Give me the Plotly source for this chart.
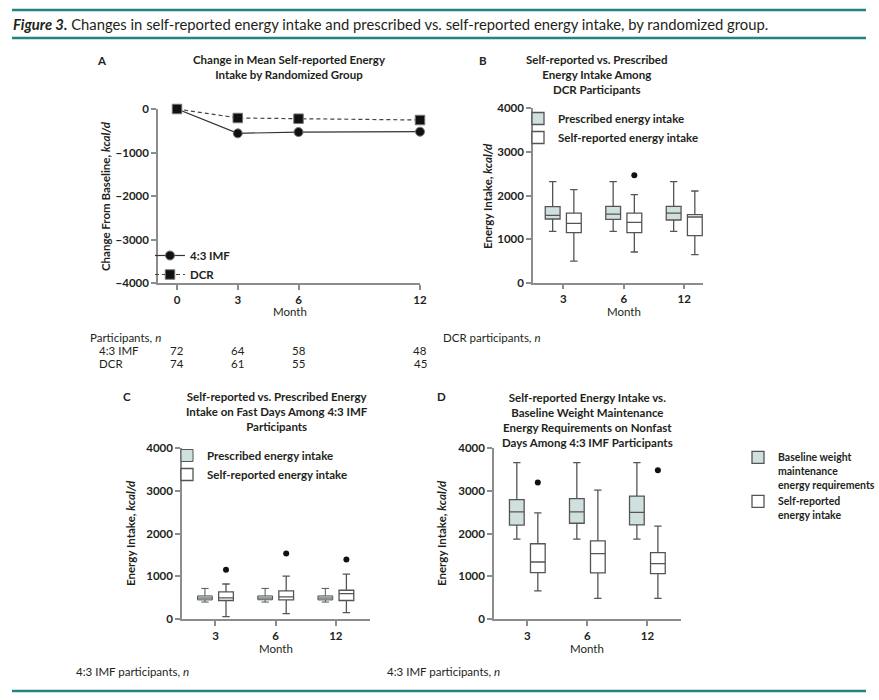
import plotly.graph_objects as go

W, H = 879, 700
FONT = "Lato, 'Open Sans', Arial, sans-serif"
TXT = "#231f20"
AXC = "#8c8c8c"
TEAL = "#23857f"
FILL = "#cfe0de"
BOXLINE = "#555555"

# ---------------- Panel A data ----------------
months_a = [0, 3, 6, 12]
imf_change = [0, -560, -530, -522]
imf_err = [0, 70, 60, 60]
dcr_change = [0, -207, -223, -253]
dcr_err = [0, 50, 50, 55]
n_imf_a = [72, 64, 58, 48]
n_dcr_a = [74, 61, 55, 45]

# ---------------- Box panels ----------------
months_box = ["3", "6", "12"]

# B: DCR participants
b_pres_lo = [1178, 1178, 1178]
b_pres_q1 = [1461, 1453, 1438]
b_pres_med = [1545, 1575, 1598]
b_pres_q3 = [1744, 1751, 1751]
b_pres_hi = [2317, 2317, 2317]
b_self_lo = [497, 704, 642]
b_self_q1 = [1147, 1147, 1078]
b_self_med = [1361, 1384, 1507]
b_self_q3 = [1598, 1598, 1560]
b_self_hi = [2134, 2019, 2103]
b_self_out = [[], [2463], []]
n_b = [62, 56, 45]

# C: fast days, 4:3 IMF
c_pres_lo = [402, 402, 402]
c_pres_q1 = [452, 455, 452]
c_pres_med = [495, 495, 495]
c_pres_q3 = [545, 545, 545]
c_pres_hi = [720, 720, 720]
c_self_lo = [62, 131, 154]
c_self_q1 = [438, 454, 438]
c_self_med = [500, 523, 600]
c_self_q3 = [638, 662, 677]
c_self_hi = [823, 1008, 1054]
c_self_out = [[1154], [1531], [1392]]
n_c = [63, 58, 46]

# D: nonfast days, 4:3 IMF
d_base_lo = [1869, 1869, 1869]
d_base_q1 = [2193, 2239, 2201]
d_base_med = [2502, 2502, 2494]
d_base_q3 = [2788, 2811, 2873]
d_base_hi = [3652, 3652, 3652]
d_self_lo = [664, 486, 486]
d_self_q1 = [1089, 1081, 1066]
d_self_med = [1336, 1529, 1297]
d_self_q3 = [1761, 1830, 1552]
d_self_hi = [2479, 3012, 2170]
d_self_out = [[3189], [], [3475]]
n_d = [62, 56, 45]


def px(x):
    return x / W


def py(y):
    return 1 - y / H


fig = go.Figure()

# Panel A lines
fig.add_trace(go.Scatter(
    x=months_a, y=imf_change, name="4:3 IMF", mode="lines+markers",
    line=dict(color="#333333", width=1.2),
    marker=dict(symbol="circle", size=9, color="#111111", line=dict(color="#777777", width=1)),
    error_y=dict(type="data", array=imf_err, color="#666666", thickness=1.2, width=3),
    cliponaxis=False, xaxis="x", yaxis="y", legend="legend", showlegend=True))
fig.add_trace(go.Scatter(
    x=months_a, y=dcr_change, name="DCR", mode="lines+markers",
    line=dict(color="#444444", width=1.2, dash="4px,3px"),
    marker=dict(symbol="square", size=9.5, color="#111111", line=dict(color="#777777", width=1)),
    error_y=dict(type="data", array=dcr_err, color="#666666", thickness=1.2, width=3),
    cliponaxis=False, xaxis="x", yaxis="y", legend="legend", showlegend=True))


def box(name, lo, q1, med, q3, hi, out, fill, xa, ya, legend, group, agroup, lw=1.3):
    extra = {}
    if out is not None:
        # empty outlier lists become a single missing value so every row stays 2-D
        extra["y"] = [o if o else [None] for o in out]
        extra["boxpoints"] = "outliers"
    else:
        extra["boxpoints"] = False
    return go.Box(
        name=name, x=months_box, lowerfence=lo, q1=q1, median=med, q3=q3,
        upperfence=hi, pointpos=0, jitter=0,
        marker=dict(color="#111111", size=6), fillcolor=fill,
        line=dict(color=BOXLINE, width=lw), whiskerwidth=0.5,
        xaxis=xa, yaxis=ya, legend=legend, offsetgroup=group,
        alignmentgroup=agroup, hoverinfo="skip", showlegend=True, **extra)


fig.add_trace(box("Prescribed energy intake", b_pres_lo, b_pres_q1, b_pres_med, b_pres_q3,
                  b_pres_hi, None, FILL, "x2", "y2", "legend2", "a", "B"))
fig.add_trace(box("Self-reported energy intake", b_self_lo, b_self_q1, b_self_med, b_self_q3,
                  b_self_hi, b_self_out, "white", "x2", "y2", "legend2", "b", "B"))
fig.add_trace(box("Prescribed energy intake", c_pres_lo, c_pres_q1, c_pres_med, c_pres_q3,
                  c_pres_hi, None, FILL, "x3", "y3", "legend3", "a", "C", lw=1.0))
fig.add_trace(box("Self-reported energy intake", c_self_lo, c_self_q1, c_self_med, c_self_q3,
                  c_self_hi, c_self_out, "white", "x3", "y3", "legend3", "b", "C"))
fig.add_trace(box("Baseline weight<br>maintenance<br>energy requirements", d_base_lo, d_base_q1,
                  d_base_med, d_base_q3, d_base_hi, None, FILL, "x4", "y4", "legend4", "a", "D"))
fig.add_trace(box("Self-reported<br>energy intake", d_self_lo, d_self_q1, d_self_med, d_self_q3,
                  d_self_hi, d_self_out, "white", "x4", "y4", "legend4", "b", "D"))

tickfont = dict(family=FONT, size=11.5, color=TXT, weight="bold")
axis_common = dict(showline=True, linecolor=AXC, linewidth=1.5, ticks="outside",
                   tickcolor=AXC, ticklen=5, tickwidth=1.5, showgrid=False,
                   zeroline=False, tickfont=tickfont, fixedrange=True,
                   automargin=False)

yticks_box = [0, 1000, 2000, 3000, 4000]

layout = dict(
    template="none",
    width=W, height=H,
    margin=dict(l=0, r=0, t=0, b=0, pad=0, autoexpand=False),
    paper_bgcolor="white", plot_bgcolor="white",
    font=dict(family=FONT, color=TXT), showlegend=True,
    boxmode="group", boxgap=0.3, boxgroupgap=0.3,
    xaxis=dict(axis_common, domain=[px(158), px(420)], range=[-0.94, 12],
               tickvals=months_a, anchor="y"),
    yaxis=dict(axis_common, domain=[py(283), py(109)], range=[-4000, 0],
               tickvals=[-4000, -3000, -2000, -1000, 0], anchor="x"),
    xaxis2=dict(axis_common, domain=[px(533), px(703)], type="category",
                categoryorder="array", categoryarray=months_box,
                range=[-0.5, 2.31], anchor="y2"),
    yaxis2=dict(axis_common, domain=[py(282.7), py(108.3)], range=[0, 4000],
                tickvals=yticks_box, anchor="x2"),
    xaxis3=dict(axis_common, domain=[px(182), px(370)], type="category",
                categoryorder="array", categoryarray=months_box,
                range=[-0.556, 2.567], anchor="y3"),
    yaxis3=dict(axis_common, domain=[py(619.3), py(447.7)], range=[0, 4000],
                tickvals=yticks_box, anchor="x3"),
    xaxis4=dict(axis_common, domain=[px(494), px(681)], type="category",
                categoryorder="array", categoryarray=months_box,
                range=[-0.555, 2.56], anchor="y4"),
    yaxis4=dict(axis_common, domain=[py(619.3), py(447.7)], range=[0, 4000],
                tickvals=yticks_box, anchor="x4"),
)

legfont = dict(family=FONT, size=11.5, color=TXT, weight="bold")
leg_common = dict(xanchor="left", yanchor="top", bgcolor="rgba(0,0,0,0)",
                  borderwidth=0, font=legfont, tracegroupgap=0, visible=True)
layout["legend"] = dict(leg_common, x=px(150), y=py(241), itemwidth=30)
layout["legend2"] = dict(leg_common, x=px(518), y=py(104))
layout["legend3"] = dict(leg_common, x=px(167), y=py(441))
layout["legend4"] = dict(leg_common, x=px(738), y=py(444), valign="top",
                         font=dict(family=FONT, size=10.5, color=TXT, weight="bold"))

fig.update_layout(layout)


def ann(text, x, y, size=11, weight="bold", xanchor="center", xref="paper",
        angle=0, align="center"):
    return dict(text=text, x=x, y=y, xref=xref, yref="paper", xanchor=xanchor,
                yanchor="middle", showarrow=False, textangle=angle, align=align,
                font=dict(family=FONT, size=size, color=TXT, weight=weight))


anns = []
# Figure header
anns.append(ann("<b><i>Figure 3.</i></b> Changes in self-reported energy intake and prescribed vs. "
                "self-reported energy intake, by randomized group.",
                px(11), py(24), size=14.8, weight="normal", xanchor="left"))
# Panel letters
for letter, x, y in [("A", 102, 60), ("B", 483, 60), ("C", 127, 396), ("D", 441, 396)]:
    anns.append(ann(letter, px(x), py(y), size=11.5))
# Panel titles
anns.append(ann("Change in Mean Self-reported Energy<br>Intake by Randomized Group",
                px(289), py(67), size=11.5))
anns.append(ann("Self-reported vs. Prescribed<br>Energy Intake Among<br>DCR Participants",
                px(597), py(74), size=11.5))
anns.append(ann("Self-reported vs. Prescribed Energy<br>Intake on Fast Days Among 4:3 IMF<br>Participants",
                px(277), py(412), size=11.5))
anns.append(ann("Self-reported Energy Intake vs.<br>Baseline Weight Maintenance<br>"
                "Energy Requirements on Nonfast<br>Days Among 4:3 IMF Participants",
                px(587), py(420), size=11.5))
# Y-axis titles
anns.append(ann("Change From Baseline, <i>kcal/d</i>", px(105), py(196), size=11.5, angle=-90))
anns.append(ann("Energy Intake, <i>kcal/d</i>", px(487), py(196), size=11.5, angle=-90))
anns.append(ann("Energy Intake, <i>kcal/d</i>", px(130), py(533), size=11.5, angle=-90))
anns.append(ann("Energy Intake, <i>kcal/d</i>", px(441), py(533), size=11.5, angle=-90))
# X-axis titles
for x, y in [(290, 311), (624, 311), (276, 648), (587, 648)]:
    anns.append(ann("Month", px(x), py(y), size=11.5, weight="normal"))

# Participants table A
anns.append(ann("Participants, <i>n</i>", px(88), py(337), weight="normal", xanchor="left", size=11.5))
anns.append(ann("4:3 IMF", px(97), py(350), weight="normal", xanchor="left", size=11.5))
anns.append(ann("DCR", px(97), py(363), weight="normal", xanchor="left", size=11.5))
for m, a, b in zip(months_a, n_imf_a, n_dcr_a):
    anns.append(ann(str(a), m, py(350), weight="normal", xref="x", size=11.5))
    anns.append(ann(str(b), m, py(363), weight="normal", xref="x", size=11.5))
# Participants B, C, D
anns.append(ann("DCR participants, <i>n</i>", px(543), py(337), weight="normal", xanchor="right", size=11.5))
anns.append(ann("4:3 IMF participants, <i>n</i>", px(191), py(671), weight="normal", xanchor="right", size=11.5))
anns.append(ann("4:3 IMF participants, <i>n</i>", px(502), py(671), weight="normal", xanchor="right", size=11.5))
for m, nb, nc, nd in zip(months_box, n_b, n_c, n_d):
    anns.append(ann(str(nb), m, py(337), weight="normal", xref="x2", size=11.5))
    anns.append(ann(str(nc), m, py(671), weight="normal", xref="x3", size=11.5))
    anns.append(ann(str(nd), m, py(671), weight="normal", xref="x4", size=11.5))

shapes = []
for y in [10, 38, 691]:
    shapes.append(dict(type="line", xref="paper", yref="paper", x0=px(12), x1=px(866),
                       y0=py(y), y1=py(y), line=dict(color=TEAL, width=2.5)))

fig.update_layout(annotations=anns, shapes=shapes)

fig.write_html("out.html", config={"displayModeBar": False},
               post_script="document.body.style.margin='0';document.body.style.padding='0';")
